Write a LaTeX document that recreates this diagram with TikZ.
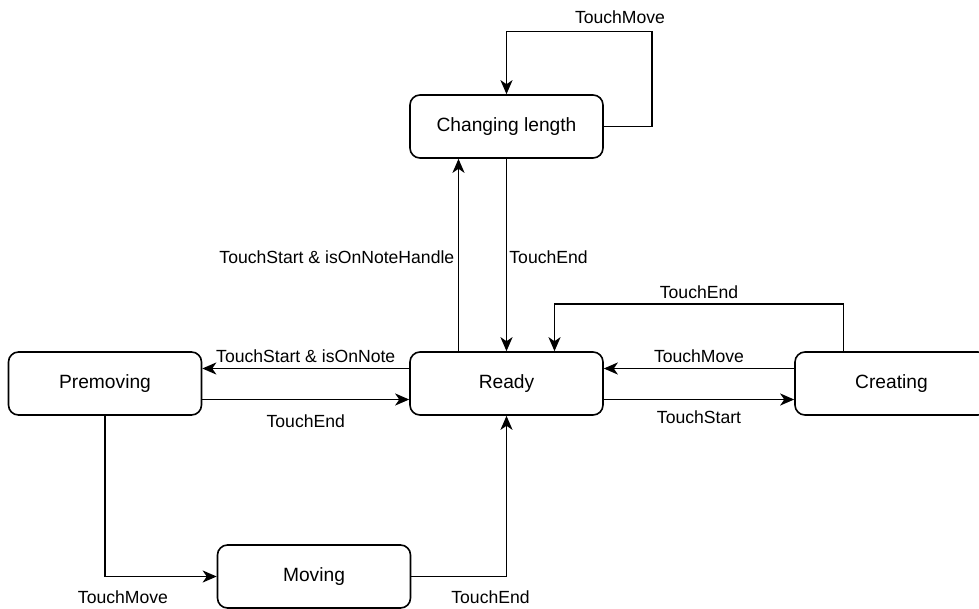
\documentclass[tikz,border=0pt]{standalone}
\usepackage{xcolor}
\usepackage{fontspec}
\setmainfont{Liberation Sans}
\usepackage{tikz}
\usetikzlibrary{arrows.meta}
\usetikzlibrary{positioning}
\tikzset{
state/.style = { rectangle, draw = black, fill = white, line width = 1.6pt, minimum width = 193pt, minimum height = 63pt, rounded corners = 10pt, font = \fontsize{19.2}{23}\selectfont },
lbl/.style = { black, draw = none, fill = none, font = \fontsize{17.6}{21}\selectfont },
trans/.style = { draw = black, line width = 1.8pt, -{Stealth[length = 14pt, width = 12pt, inset = 4pt]} },
}

\begin{document}
\begin{tikzpicture}[x = 1pt, y = -1pt]
      \useasboundingbox (0, 0) rectangle (979, 608);
      % states
      \node[state] (chg) at (506.5, 126.5) {Changing length};
      \node[state] (rdy) at (506.5, 383.5) {Ready};
      \node[state] (pre) at (105, 383.5)   {Premoving};
      \node[state] (crt) at (891.5, 383.5) {Creating};
      \node[state] (mov) at (314, 576.5)   {Moving};
      % transitions
      \draw[trans] (chg.east) -- ++(48, 0) -- ++(0, -95) -| (chg.north);
      \node[lbl] (lblloop) at (620, 17) {TouchMove};
      \draw[trans] ([xshift = -48]rdy.north) -- ([xshift = -48]chg.south) node[lbl, midway, left, yshift = -2] {TouchStart \& isOnNoteHandle};
      \draw[trans] (chg.south) -- (rdy.north) node[lbl, midway, right, inner sep = 2pt, yshift = -2] {TouchEnd};
      \draw[trans] ([xshift = -48]crt.north) -- ++(0, -47) -| node[lbl, pos = 0.25, above, inner sep = 5pt] {TouchEnd} ([xshift = 48]rdy.north);
      \draw[trans] ([yshift = 15]crt.west) -- ([yshift = 15]rdy.east) node[lbl, midway, above, inner sep = 5pt] {TouchMove};
      \draw[trans] ([yshift = -16]rdy.east) -- ([yshift = -16]crt.west) node[lbl, midway, below, inner sep = 10pt] {TouchStart};
      \draw[trans] ([yshift = 15]rdy.west) -- ([yshift = 15]pre.east) node[lbl, midway, above, inner sep = 5pt] {TouchStart \& isOnNote};
      \draw[trans] ([yshift = -16]pre.east) -- ([yshift = -16]rdy.west) node[lbl, midway, below, inner sep = 14pt] {TouchEnd};
      \draw[trans] (pre.south) |- node[lbl, pos = 0.5, below, xshift = 18, inner sep = 13pt] {TouchMove} (mov.west);
      \draw[trans] (mov.east) -| node[lbl, pos = 0.5, below, xshift = -16, inner sep = 13pt] {TouchEnd} (rdy.south);
    \end{tikzpicture}
\end{document}
